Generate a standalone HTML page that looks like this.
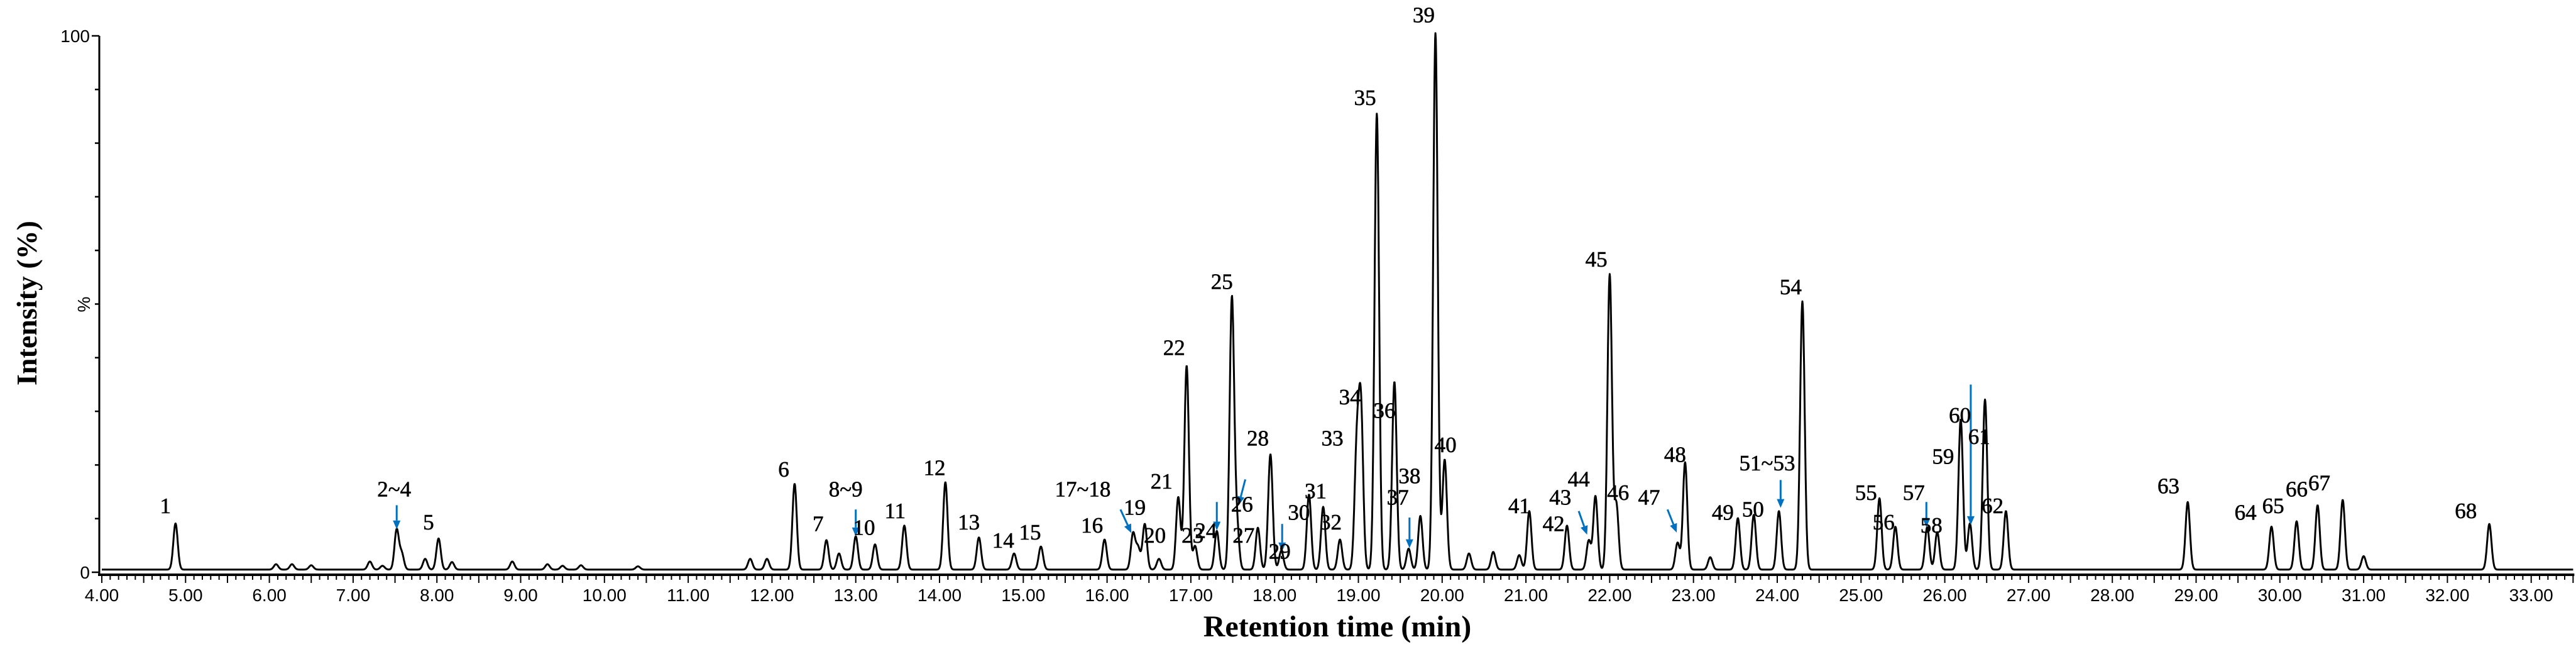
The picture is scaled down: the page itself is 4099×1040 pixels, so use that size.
<!DOCTYPE html>
<html><head><meta charset="utf-8"><style>
html,body{margin:0;padding:0;background:#fff}
svg{display:block}
.tk{font-family:"Liberation Sans",sans-serif;font-size:28px;fill:#000}
.pl{font-family:"Liberation Serif",serif;font-size:35px;fill:#000;stroke:#000;stroke-width:0.6}
.ti{font-family:"Liberation Serif",serif;font-size:48px;font-weight:bold;fill:#000}
</style></head><body>
<svg id="chart" width="4099" height="1040" viewBox="0 0 4099 1040" xmlns="http://www.w3.org/2000/svg">
<g id="axes"></g>
<path id="trace" fill="none" stroke="#000" stroke-width="3" stroke-linejoin="round"/>
<g id="arrows"></g>
<g id="labels"></g>
<text class="ti" x="2128" y="1012" text-anchor="middle">Retention time (min)</text>
<text class="ti" x="0" y="0" text-anchor="middle" transform="translate(58,482) rotate(-90)" style="font-size:46px">Intensity (%)</text>
<text class="tk" x="0" y="0" text-anchor="middle" transform="translate(143,484) rotate(-90)">%</text>
</svg>
<script>
// peak retention times (min) and heights (%)
const peakTimes = [4.88,6.08,6.27,6.5,7.2,7.35,7.52,7.58,7.86,8.02,8.18,8.9,9.32,9.5,9.72,10.4,11.74,11.94,
12.27,12.65,12.8,13.0,13.23,13.58,14.07,14.47,14.89,15.21,15.97,16.31,16.37,16.45,16.62,16.85,16.95,17.05,17.31,17.49,17.55,17.8,17.95,18.08,18.41,18.58,18.78,18.98,19.03,19.22,19.43,19.6,19.74,19.92,20.03,20.32,20.61,
20.92,21.04,21.49,21.75,21.83,22.0,22.08,22.81,22.9,23.2,23.53,23.72,24.02,24.3,25.22,25.41,25.79,25.91,26.19,26.3,26.48,26.73,28.9,29.9,30.2,30.45,30.75,31.0,32.5];
const peakHeights = [8.6,1,1,0.8,1.5,0.7,7.4,3,2,5.8,1.4,1.5,1,0.7,0.8,0.6,2,2,
16,5.5,3,6.2,4.7,8.2,16.3,6,3,4.3,5.6,6.7,4,8.5,2,13.5,38,4.4,7.2,50.5,8,7.8,21.5,3.5,14,11.7,5.6,21.5,29.6,85,35,3.9,10,100,20.5,3,3.3,
2.7,10.9,8.2,5.4,13.7,55,12,5,20,2.3,9.6,10.2,10.9,50,13.3,8,7.9,7,28,8.6,31.7,10.9,12.6,8,9,12,13,2.5,8.5];
// peak labels: text, time, height (%) of label baseline
const labelTexts = ["1","2~4","5","6","7","8~9","10","11","12","13","14","15","16","17~18","19","20","21","22","23","24","25","26","27","28","29","30","31","32","33","34","35","36","37","38","39","40","41","42","43","44","45","46","47","48","49","50","51~53","54","55","56","57","58","59","60","61","62","63","64","65","66","67","68"];
const labelTimes = [4.76,7.49,7.90,12.14,12.55,12.88,13.10,13.47,13.94,14.35,14.76,15.08,15.82,15.71,16.33,16.57,16.65,16.80,17.02,17.18,17.37,17.61,17.63,17.80,18.06,18.29,18.49,18.67,18.69,18.90,19.08,19.31,19.47,19.61,19.78,20.04,20.92,21.33,21.41,21.63,21.84,22.10,22.47,22.78,23.35,23.71,23.88,24.16,25.06,25.27,25.63,25.84,25.98,26.18,26.41,26.57,28.67,29.59,29.92,30.20,30.47,32.22];
const labelHeights = [11,14.1,8,17.8,7.7,14.1,7,10.1,18.1,8,4.6,6.1,7.4,14.1,10.7,5.5,15.6,40.5,5.5,6.4,52.8,11.3,5.5,23.6,2.5,9.8,13.8,8,23.6,31.3,87.1,28.8,12.6,16.6,102.5,22.4,11,7.7,12.6,16,57,13.5,12.6,20.6,9.8,10.4,19,51.8,13.5,8,13.5,7.4,20.2,27.9,23.9,11,14.7,9.8,11,14.1,15.3,10.1];
// arrows: start time, start %, end time, end %
const arrowT1 = [7.52,13.0,16.16,17.31,17.65,18.09,19.61,21.63,22.69,24.04,25.78,26.31];
const arrowP1 = [12.5,11.7,11.7,13.1,17.3,9,10.2,11.4,11.7,17.2,13.1,35];
const arrowT2 = [7.52,13.0,16.29,17.31,17.57,18.09,19.61,21.73,22.80,24.04,25.78,26.31];
const arrowP2 = [8,6.7,7.3,7.8,12.5,3.9,4.5,7,7.4,12,8.4,8.8];
const xTickLabels = ["4.00","5.00","6.00","7.00","8.00","9.00","10.00","11.00","12.00","13.00","14.00","15.00","16.00","17.00","18.00","19.00","20.00","21.00","22.00","23.00","24.00","25.00","26.00","27.00","28.00","29.00","30.00","31.00","32.00","33.00"];
const yTickLabels = ["0","100"];

const NS="http://www.w3.org/2000/svg";
const X0=162, PXM=133.3, Y0=910, PXP=8.53, T0=4, T1=33.5;
function xs(t){return X0+(t-T0)*PXM;}
function ys(p){return Y0-p*PXP;}
function mk(tag,parent,attrs){const e=document.createElementNS(NS,tag);for(const k in attrs)e.setAttribute(k,attrs[k]);parent.appendChild(e);return e;}

const axes=document.getElementById('axes');
let l=mk('line',axes,{x1:158,y1:57,x2:158,y2:915,stroke:'#000','stroke-width':3});


l=mk('line',axes,{x1:156,y1:914,x2:xs(T1)+2,y2:914,stroke:'#000','stroke-width':4});


for(let i=0;i<=10;i++){
  const y=ys(i*10);
  const len=(i===0||i===10)?12:7;
  const tk=mk('line',axes,{x1:158-len,y1:y,x2:158,y2:y,stroke:'#000','stroke-width':2.5});
  
  
}
yTickLabels.forEach((s,i)=>{
  const t=mk('text',axes,{x:143,y:ys(i*100)+10,'text-anchor':'end',class:'tk'});
  t.textContent=s;
  
  
});
for(let k=0;k<=295;k++){
  const t=T0+k*0.1;
  const x=xs(t);
  const len=(k%5===0)?13:8;
  const tk=mk('line',axes,{x1:x,y1:914,x2:x,y2:914+len,stroke:'#000','stroke-width':2});
  
  
}
xTickLabels.forEach((s,i)=>{
  const t=mk('text',axes,{x:xs(T0+i),y:956,'text-anchor':'middle',class:'tk'});
  t.textContent=s;
  
  
});

// trace
const step=0.004;
let d='';
for(let t=T0;t<=T1+1e-9;t+=step){
  let v=0.5;
  for(let i=0;i<peakTimes.length;i++){
    const sg=peakHeights[i]>20?0.027:0.026;
    const z=(t-peakTimes[i])/sg;
    if(Math.abs(z)<6)v+=peakHeights[i]*Math.exp(-0.5*z*z);
  }
  d+=(d?'L':'M')+xs(t).toFixed(1)+' '+ys(v).toFixed(1);
}
document.getElementById('trace').setAttribute('d',d);

// arrows
const ag=document.getElementById('arrows');
for(let i=0;i<arrowT1.length;i++){
  const x1=xs(arrowT1[i]),y1=ys(arrowP1[i]),x2=xs(arrowT2[i]),y2=ys(arrowP2[i]);
  const g=mk('g',ag,{});
  
  
  const dx=x2-x1,dy=y2-y1,L=Math.hypot(dx,dy),ux=dx/L,uy=dy/L;
  const hx=x2-ux*14,hy=y2-uy*14;
  mk('line',g,{x1:x1,y1:y1,x2:hx,y2:hy,stroke:'#0070c0','stroke-width':3});
  mk('polygon',g,{points:`${x2},${y2} ${hx-uy*6},${hy+ux*6} ${hx+uy*6},${hy-ux*6}`,fill:'#0070c0'});
}

// labels
const lg=document.getElementById('labels');
labelTexts.forEach((s,i)=>{
  const t=mk('text',lg,{x:xs(labelTimes[i]),y:ys(labelHeights[i]),'text-anchor':'middle',class:'pl'});
  t.textContent=s;
  
  
});
</script>
</body></html>
